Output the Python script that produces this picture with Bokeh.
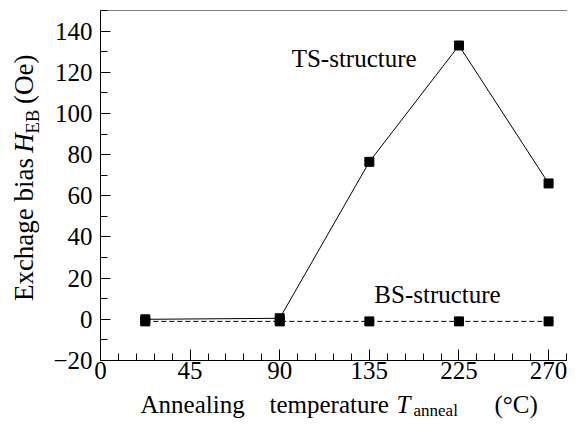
import math
from bokeh.plotting import figure
from bokeh.layouts import column, row
from bokeh.models import Range1d, SingleIntervalTicker, Label, Span, ColumnDataSource
from bokeh.embed import file_html
from bokeh.resources import INLINE

# ---- data ----
# positions on the (non-uniform) temperature axis; ticks 180 and 225 are labelled 225 and 270
x_pos = [22.5, 90, 135, 180, 225]
ts_heb = [0.0, 0.5, 76.5, 133.0, 66.0]
bs_heb = [-1.0, -1.0, -1.0, -1.0, -1.0]
x_tick_labels = {0: "0", 45: "45", 90: "90", 135: "135", 180: "225", 225: "270"}
y_tick_labels = {-20: "\u221220"}

FONT = "Liberation Serif"
TICK_FS = "25px"

TOP, BOT = 10, 29
YW = 50          # width of y-title strip
MAIN_W = 517
MAIN_H = 389
XH = 31          # height of x-title strip

xr = Range1d(0, 234.5)
yr = Range1d(-20, 150)

p = figure(width=MAIN_W, height=MAIN_H, output_backend="svg", toolbar_location=None,
           x_range=xr, y_range=yr,
           min_border_left=48, min_border_right=0, min_border_top=TOP, min_border_bottom=BOT,
           background_fill_color="white", border_fill_color="white")
p.outline_line_color = None
p.grid.visible = False

src_ts = ColumnDataSource(dict(x=x_pos, y=ts_heb))
src_bs = ColumnDataSource(dict(x=x_pos, y=bs_heb))

p.line("x", "y", source=src_bs, line_color="black", line_width=1, line_dash="5 3")
p.line("x", "y", source=src_ts, line_color="black", line_width=1)
p.scatter("x", "y", source=src_bs, marker="square", size=9, fill_color="black", line_color="black")
p.scatter("x", "y", source=src_ts, marker="square", size=9, fill_color="black", line_color="black")

xa = p.xaxis[0]
xa.ticker = SingleIntervalTicker(interval=45, num_minor_ticks=5)
xa.major_label_overrides = x_tick_labels
ya = p.yaxis[0]
ya.ticker = SingleIntervalTicker(interval=20, num_minor_ticks=2)
ya.major_label_overrides = y_tick_labels
for ax in (xa, ya):
    ax.axis_label = None
    ax.axis_line_color = "black"
    ax.axis_line_width = 1
    ax.major_tick_line_color = "black"
    ax.minor_tick_line_color = "black"
    ax.major_tick_out = 0
    ax.minor_tick_out = 0
    ax.major_label_text_font = FONT
    ax.major_label_text_font_size = TICK_FS
    ax.major_label_text_color = "black"
xa.major_tick_in = 11
xa.minor_tick_in = 7
ya.major_tick_in = 10
ya.minor_tick_in = 7
xa.major_label_standoff = 1
ya.major_label_standoff = 8

p.add_layout(Span(location=150, dimension="width", line_color="black", line_width=1))


def lab(fig, text, x, y, size, style="normal", angle=0.0):
    # (x, y) is the left end of the text's centre line
    fig.add_layout(Label(x=x, y=y, text=text, text_font=FONT,
                         text_font_size=size, text_font_style=style, text_color="black",
                         text_align="left", text_baseline="middle", angle=angle))


lab(p, "TS-structure", 96, 126.5, "25px")
lab(p, "BS-structure", 137.5, 12.0, "25px")


def strip(w, h):
    f = figure(width=w, height=h, output_backend="svg", toolbar_location=None,
               x_range=Range1d(0, w), y_range=Range1d(0, h),
               x_axis_type=None, y_axis_type=None,
               min_border_left=0, min_border_right=0, min_border_top=0,
               min_border_bottom=0, background_fill_color="white",
               border_fill_color="white")
    f.outline_line_color = None
    f.grid.visible = False
    return f


# y-title strip (coordinates in pixels from its bottom-left corner)
fy = strip(YW, MAIN_H)
rot = math.pi / 2
lab(fy, "Exchage bias", 23, 66, "27px", angle=rot)
lab(fy, "H", 23, 231, "27px", style="italic", angle=rot)
lab(fy, "EB", 32, 252, "19px", angle=rot)
lab(fy, "(Oe)", 23, 285, "27px", angle=rot)

# x-title strip (coordinates in pixels from its bottom-left corner)
fx = strip(YW + MAIN_W, XH)
lab(fx, "Annealing", 140, 16, "25px")
lab(fx, "temperature", 269, 16, "25px")
lab(fx, "T", 396, 16, "25px", style="italic")
lab(fx, "anneal", 413, 10, "17px")
lab(fx, "(\u00b0C)", 494, 16, "25px")

layout = column(row(fy, p, spacing=0), fx, spacing=0)
open("out.html", "w").write(file_html(layout, INLINE))
